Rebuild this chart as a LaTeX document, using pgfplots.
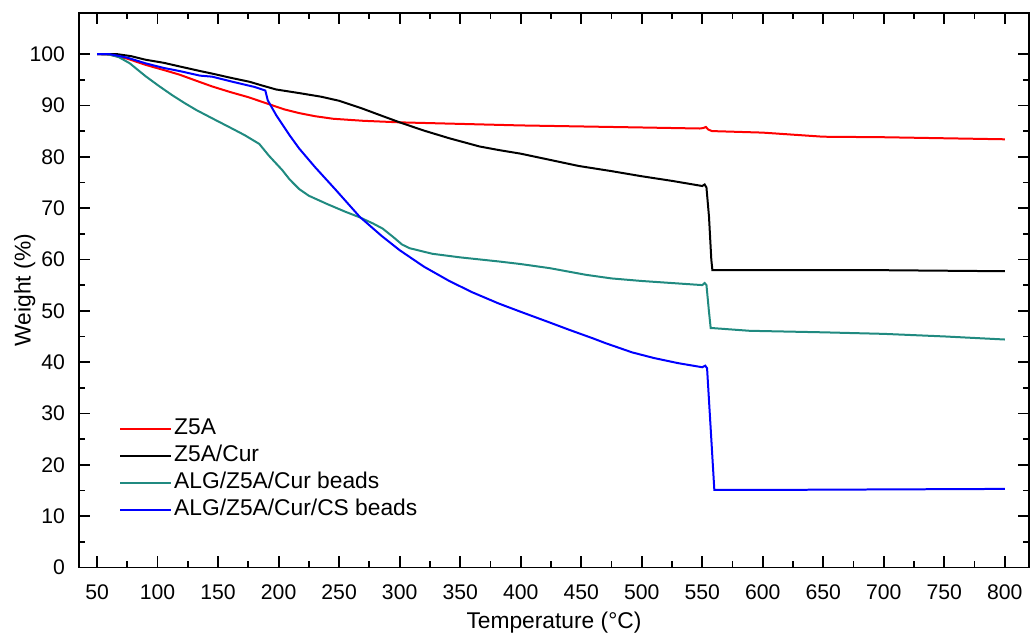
\documentclass[border=0pt]{standalone}
\usepackage{fontspec}
\setmainfont{Liberation Sans}
\usepackage{pgfplots}
\pgfplotsset{compat=1.18}
\definecolor{zred}{RGB}{255,0,0}
\definecolor{zteal}{RGB}{32,138,128}
\definecolor{zblue}{RGB}{0,0,255}

\begin{document}
\fontsize{11.4pt}{13pt}\selectfont
\begin{tikzpicture}
\useasboundingbox (-39.5pt,-33pt) rectangle (476pt,284pt);
\begin{axis}[
  at={(0,0)}, anchor=south west,
  scale only axis,
  width=475.5pt, height=277.5pt,
  xmin=35, xmax=820, ymin=0, ymax=108,
  xtick={50,100,...,800},
  ytick={0,10,...,100},
  minor x tick num=1, minor y tick num=1,
  tick align=inside,
  major tick length=5.5pt, minor tick length=3pt,
  axis line style={line width=0.9pt},
  every tick/.style={black, line width=0.9pt},
  /pgf/number format/assume math mode=true,
  /pgf/number format/1000 sep={},
  tick label style={font=\fontsize{10.6pt}{12pt}\selectfont},
  yticklabel style={xshift=-3pt},
  xticklabel style={yshift=-4.5pt},
  label style={font=\fontsize{11.4pt}{13pt}\selectfont},
  xlabel={Temperature (°C)},
  ylabel={Weight (\%)},
  xlabel style={at={(axis description cs:0.5,0)}, anchor=base, yshift=-30.5pt},
  ylabel style={at={(axis description cs:-0.057,0.5)}, anchor=center},
  legend style={at={(axis cs:68,29.6)}, anchor=north west, draw=none, fill=none,
    inner sep=0pt, row sep=0.9pt,
    nodes={inner sep=1pt, text height=8.2pt, text depth=2.5pt},
    font=\fontsize{11.4pt}{13pt}\selectfont},
  legend cell align=left,
  legend image code/.code={\draw[#1] (0pt,0pt) -- (25.5pt,0pt);},
  every axis plot/.append style={line width=1pt},
]
% Z5A
\addplot[zred] coordinates {
(50,100)(60,99.9)(75,99.1)(90,97.9)(105,96.9)(118,96.0)(132,94.8)(145,93.7)
(160,92.6)(175,91.6)(190,90.4)(205,89.2)(217,88.5)(230,87.9)(245,87.4)(270,87.0)
(300,86.7)(350,86.4)(400,86.1)(450,85.9)(500,85.7)(548,85.5)(551,85.6)(553,85.8)
(555,85.3)(558,85.0)(600,84.7)(625,84.3)(650,83.9)(700,83.8)(750,83.6)(800,83.4)};
% Z5A/Cur
\addplot[black] coordinates {
(50,100)(66,100)(78,99.6)(90,98.9)(105,98.3)(118,97.6)(135,96.7)(145,96.2)
(160,95.4)(176,94.6)(186,93.9)(198,93.1)(217,92.4)(235,91.7)(250,90.9)(269,89.4)
(285,88.0)(300,86.7)(320,85.1)(341,83.6)(366,82.0)(382,81.3)(400,80.6)(424,79.4)
(448,78.2)(475,77.2)(500,76.2)(525,75.3)(550,74.3)(552,74.6)(553.5,74.0)
(555.6,68.3)(557.5,60)(558.4,57.9)(600,57.9)(700,57.9)(800,57.7)};
% ALG/Z5A/Cur beads
\addplot[zteal] coordinates {
(50,100)(60,99.9)(68,99.4)(77,98.2)(90,95.7)(101,93.8)(112,92.0)(122,90.5)
(132,89.1)(145,87.5)(159,85.8)(172,84.2)(184,82.5)(192,80.2)(203,77.4)(209,75.6)
(217,73.7)(225,72.4)(240,70.8)(255,69.3)(267,68.2)(278,67.0)(286,66.0)(295,64.3)
(302,62.9)(308,62.2)(327,61.1)(350,60.4)(382,59.6)(400,59.1)(424,58.3)(454,57.0)
(475,56.3)(500,55.8)(525,55.4)(550,55.0)(552,55.4)(553.5,55.0)(555.5,50)(557,46.6)
(560,46.6)(589,46.1)(650,45.8)(700,45.5)(750,45.0)(800,44.4)};
% ALG/Z5A/Cur/CS beads
\addplot[zblue] coordinates {
(50,100)(60,100)(75,99.3)(90,98.2)(105,97.3)(118,96.7)(135,95.8)(145,95.6)
(162,94.6)(180,93.6)(189,92.9)(191,91.0)(198,88.1)(209,84.2)(217,81.6)(230,78.0)
(247,73.6)(267,68.3)(285,64.6)(300,61.8)(320,58.6)(341,55.8)(360,53.6)(382,51.4)
(400,49.8)(423,47.8)(440,46.3)(460,44.6)(470,43.7)(492,41.9)(510,40.8)(530,39.8)
(550,39.0)(552.5,39.3)(554,38.8)(557,27)(560,15.1)(600,15.1)(700,15.2)(800,15.3)};
\legend{Z5A, Z5A/Cur, ALG/Z5A/Cur beads, ALG/Z5A/Cur/CS beads}
\end{axis}
\end{tikzpicture}
\end{document}
